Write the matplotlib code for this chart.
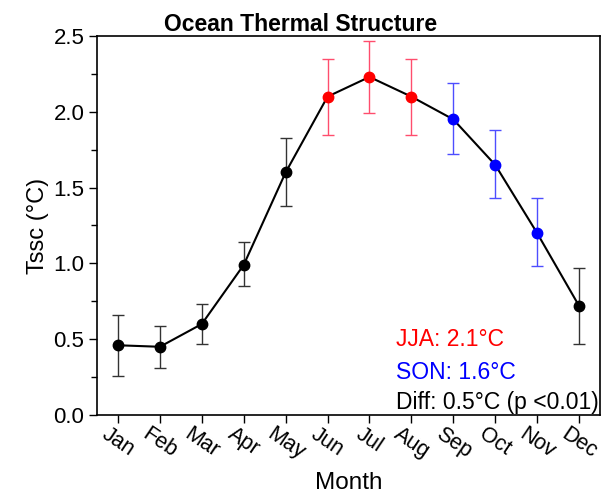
import matplotlib
matplotlib.use("Agg")
import matplotlib.pyplot as plt
from matplotlib.ticker import MultipleLocator

months = ["Jan", "Feb", "Mar", "Apr", "May", "Jun", "Jul", "Aug", "Sep", "Oct", "Nov", "Dec"]
tssc = [0.46, 0.45, 0.60, 0.99, 1.60, 2.10, 2.23, 2.10, 1.95, 1.65, 1.20, 0.72]
err_low = [0.20, 0.14, 0.13, 0.14, 0.22, 0.25, 0.24, 0.25, 0.23, 0.22, 0.22, 0.25]
err_high = [0.20, 0.14, 0.13, 0.15, 0.23, 0.25, 0.24, 0.25, 0.24, 0.23, 0.23, 0.25]
point_colors = ["black"] * 5 + ["red"] * 3 + ["blue"] * 3 + ["black"]
err_colors = ["#333333"] * 5 + ["#ff4d6d"] * 3 + ["#4d4dff"] * 3 + ["#333333"]

plt.rcParams["font.family"] = ["Liberation Sans", "DejaVu Sans"]

W, H = 602, 494
fig = plt.figure(figsize=(W / 100, H / 100), dpi=100)
ax = fig.add_axes([97 / W, (H - 415) / H, (600 - 97) / W, (415 - 36) / H])

x = list(range(1, 13))
ax.plot(x, tssc, color="black", lw=1.5, zorder=2)
for xi, yi, lo, hi, pc, ec in zip(x, tssc, err_low, err_high, point_colors, err_colors):
    ax.errorbar([xi], [yi], yerr=[[lo], [hi]], fmt="none", ecolor=ec,
                elinewidth=1.0, capsize=4, capthick=1.0, zorder=1)
    ax.plot([xi], [yi], "o", color=pc, markersize=7.5, zorder=3)

ax.set_xlim(0.5, 12.5)
ax.set_ylim(0, 2.5)
ax.yaxis.set_major_locator(MultipleLocator(0.5))
ax.yaxis.set_minor_locator(MultipleLocator(0.25))
ax.yaxis.set_major_formatter(matplotlib.ticker.FormatStrFormatter("%.1f"))
ax.set_xticks(x)
ax.set_xticklabels(months, rotation=-34, ha="center", va="top", fontsize=15.5)
ax.tick_params(axis="y", labelsize=16, direction="out", length=6, width=1, pad=3)
ax.tick_params(axis="y", which="minor", length=4, width=1)
ax.tick_params(axis="x", direction="out", length=6, width=1, pad=0)
for s in ax.spines.values():
    s.set_linewidth(1.2)

ax.set_xlabel("Month", fontsize=17.5, labelpad=6)
ax.set_ylabel("Tssc (°C)", fontsize=17, labelpad=3)
fig.text(0.5, (H - 31) / H, "Ocean Thermal Structure", fontsize=16.5, fontweight="bold",
         ha="center", va="baseline")

ax.text(0.594, 0.198, "JJA: 2.1°C", color="red", fontsize=16.5, transform=ax.transAxes, va="center")
ax.text(0.594, 0.113, "SON: 1.6°C", color="blue", fontsize=16.5, transform=ax.transAxes, va="center")
ax.text(0.594, 0.032, "Diff: 0.5°C (p <0.01)", color="black", fontsize=16.5, transform=ax.transAxes, va="center")

fig.savefig("out.png", dpi=100)
